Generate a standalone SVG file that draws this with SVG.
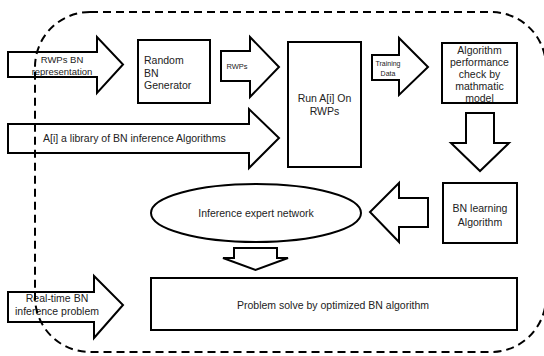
<svg xmlns="http://www.w3.org/2000/svg" width="544" height="356" viewBox="0 0 544 356">
<style>
.shape{fill:#fff;stroke:#000;stroke-width:2;stroke-linejoin:miter}
.t{font-family:"Liberation Sans",Arial,sans-serif;font-size:10.5px;fill:#222}
.s{font-size:7.5px}
.xs{font-size:7px}
.sm{font-size:9.5px}
.m{text-anchor:middle}
.border{fill:none;stroke:#000;stroke-width:2;stroke-dasharray:8 5}
</style>
<rect width="544" height="356" fill="#fff"/>
<g id="connectors">
<g id="in-rwps-bn">
<polygon class="shape" points="8,52 97,52 97,37 123,64.5 97,93 97,77 8,77"/>
<text class="t sm m" x="62" y="63">RWPs BN</text>
<text class="t sm m" x="62" y="75">representation</text>
</g>
<g id="arrow-rwps">
<polygon class="shape" points="221,51 250,51 250,37 279,67 250,97 250,81 221,81"/>
<text class="t s m" x="237" y="69">RWPs</text>
</g>
<g id="in-library">
<polygon class="shape" points="8,124 249,124 249,109 279,138 249,168 249,153 8,153"/>
<text class="t" x="43" y="141.5">A[i] a library of BN inference Algorithms</text>
</g>
<g id="arrow-training">
<polygon class="shape" points="372,55 399,55 399,38 428,67 399,95 399,80 372,80"/>
<text class="t xs m" x="388" y="66">Training</text>
<text class="t xs m" x="388" y="76">Data</text>
</g>
<g id="arrow-down-1">
<polygon class="shape" points="466,113 494,113 494,143 509,143 480,171 451,143 466,143"/>
</g>
<g id="arrow-left">
<polygon class="shape" points="428,198 428,227 399,227 399,242 370,212 399,183 399,198"/>
</g>
<g id="arrow-down-2">
<polygon class="shape" points="234,248 277,248 277,258 288,258 255.5,270 223,258 234,258"/>
</g>
<g id="in-realtime">
<polygon class="shape" points="8,292 94,292 94,276 123,305 94,338 94,322 8,322"/>
<text class="t m" x="57" y="302">Real-time BN</text>
<text class="t m" x="57" y="315">inference problem</text>
</g>
</g>
<g id="random-generator">
<rect class="shape" x="138" y="40" width="72" height="63"/>
<text class="t" x="144" y="64">Random</text>
<text class="t" x="144" y="76.5">BN</text>
<text class="t" x="144" y="89">Generator</text>
</g>
<g id="run">
<rect class="shape" x="288" y="42" width="73" height="125"/>
<text class="t m" x="324.5" y="102">Run A[i] On</text>
<text class="t m" x="324.5" y="115">RWPs</text>
</g>
<g id="perf-check">
<rect class="shape" x="442" y="43" width="75" height="60"/>
<text class="t m" x="479.5" y="54">Algorithm</text>
<text class="t m" x="479.5" y="66">performance</text>
<text class="t m" x="479.5" y="78">check by</text>
<text class="t m" x="479.5" y="90">mathmatic</text>
<text class="t m" x="479.5" y="102">model</text>
</g>
<g id="bn-learning">
<rect class="shape" x="443" y="183" width="74" height="60"/>
<text class="t m" x="480" y="211.5">BN learning</text>
<text class="t m" x="480" y="225.5">Algorithm</text>
</g>
<g id="expert-network">
<ellipse class="shape" cx="256" cy="213" rx="105" ry="29"/>
<text class="t m" x="256" y="217">Inference expert network</text>
</g>
<g id="problem-solve">
<rect class="shape" x="151" y="278" width="366" height="52"/>
<text class="t m" x="333" y="308.5">Problem solve by optimized BN algorithm</text>
</g>
<g id="boundary">
<rect class="border" x="35" y="12" width="511" height="340" rx="55" ry="55"/>
</g>
</svg>
